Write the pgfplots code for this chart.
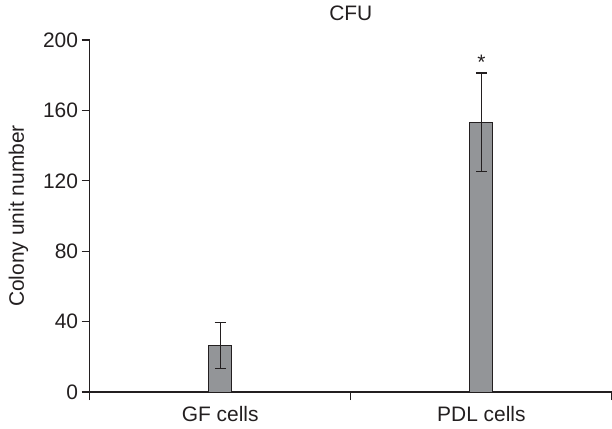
\documentclass[border=0pt]{standalone}
\usepackage{pgfplots}
\pgfplotsset{compat=1.18}
\usepackage{fontspec}
\setmainfont{Liberation Sans}

\definecolor{barfill}{RGB}{147,149,152}
\definecolor{ink}{RGB}{35,31,32}

\begin{document}
\begin{tikzpicture}
\begin{axis}[
  name=ax,
  scale only axis,
  width=522bp, height=351.7bp,
  xmin=0, xmax=2, ymin=0, ymax=200,
  ybar,
  axis x line*=bottom, axis y line*=left,
  axis line style={ink, line width=1.2pt},
  ytick={0,40,...,200},
  xtick={0.5,1.5},
  xticklabels={GF cells, PDL cells},
  xtick style={draw=none},
  ytick style={draw=ink, line width=1.2pt},
  extra x ticks={0,1,2},
  extra x tick labels={},
  extra x tick style={xtick style={draw=ink, line width=1.2pt}},
  tick align=outside,
  major tick length=8bp,
  /pgf/number format/assume math mode=true,
  tick label style={font=\fontsize{21}{24}\selectfont, text=ink},
  xticklabel style={yshift=-3bp},
  ylabel={Colony unit number},
  ylabel style={font=\fontsize{21}{24}\selectfont, text=ink,
    at={(rel axis cs:0,0.5)}, anchor=center, yshift=71bp},
  title={CFU},
  title style={font=\fontsize{21}{24}\selectfont, text=ink,
    at={(rel axis cs:0.5,1)}, anchor=base, yshift=13.3bp},
]
\addplot[ybar, bar width=23bp, fill=barfill, draw=ink, line width=1pt,
  error bars/.cd, y dir=both, y explicit,
  error bar style={draw=ink, line width=1.3pt},
  error mark options={rotate=90, mark size=5.5bp, draw=ink, line width=1.3pt}]
  coordinates {
  (0.5,26.5) +- (0,13.2)
  (1.5,153.2) +- (0,28)
};
\node[anchor=south, inner sep=3.5bp, text=ink, font=\fontsize{21}{24}\selectfont]
  at (axis cs:1.5,181) {*};
\end{axis}
\pgfresetboundingbox
\path[use as bounding box] ([xshift=-89.5bp,yshift=-36.3bp]ax.south west)
  rectangle ([yshift=40bp]ax.north east);
\end{tikzpicture}
\end{document}
